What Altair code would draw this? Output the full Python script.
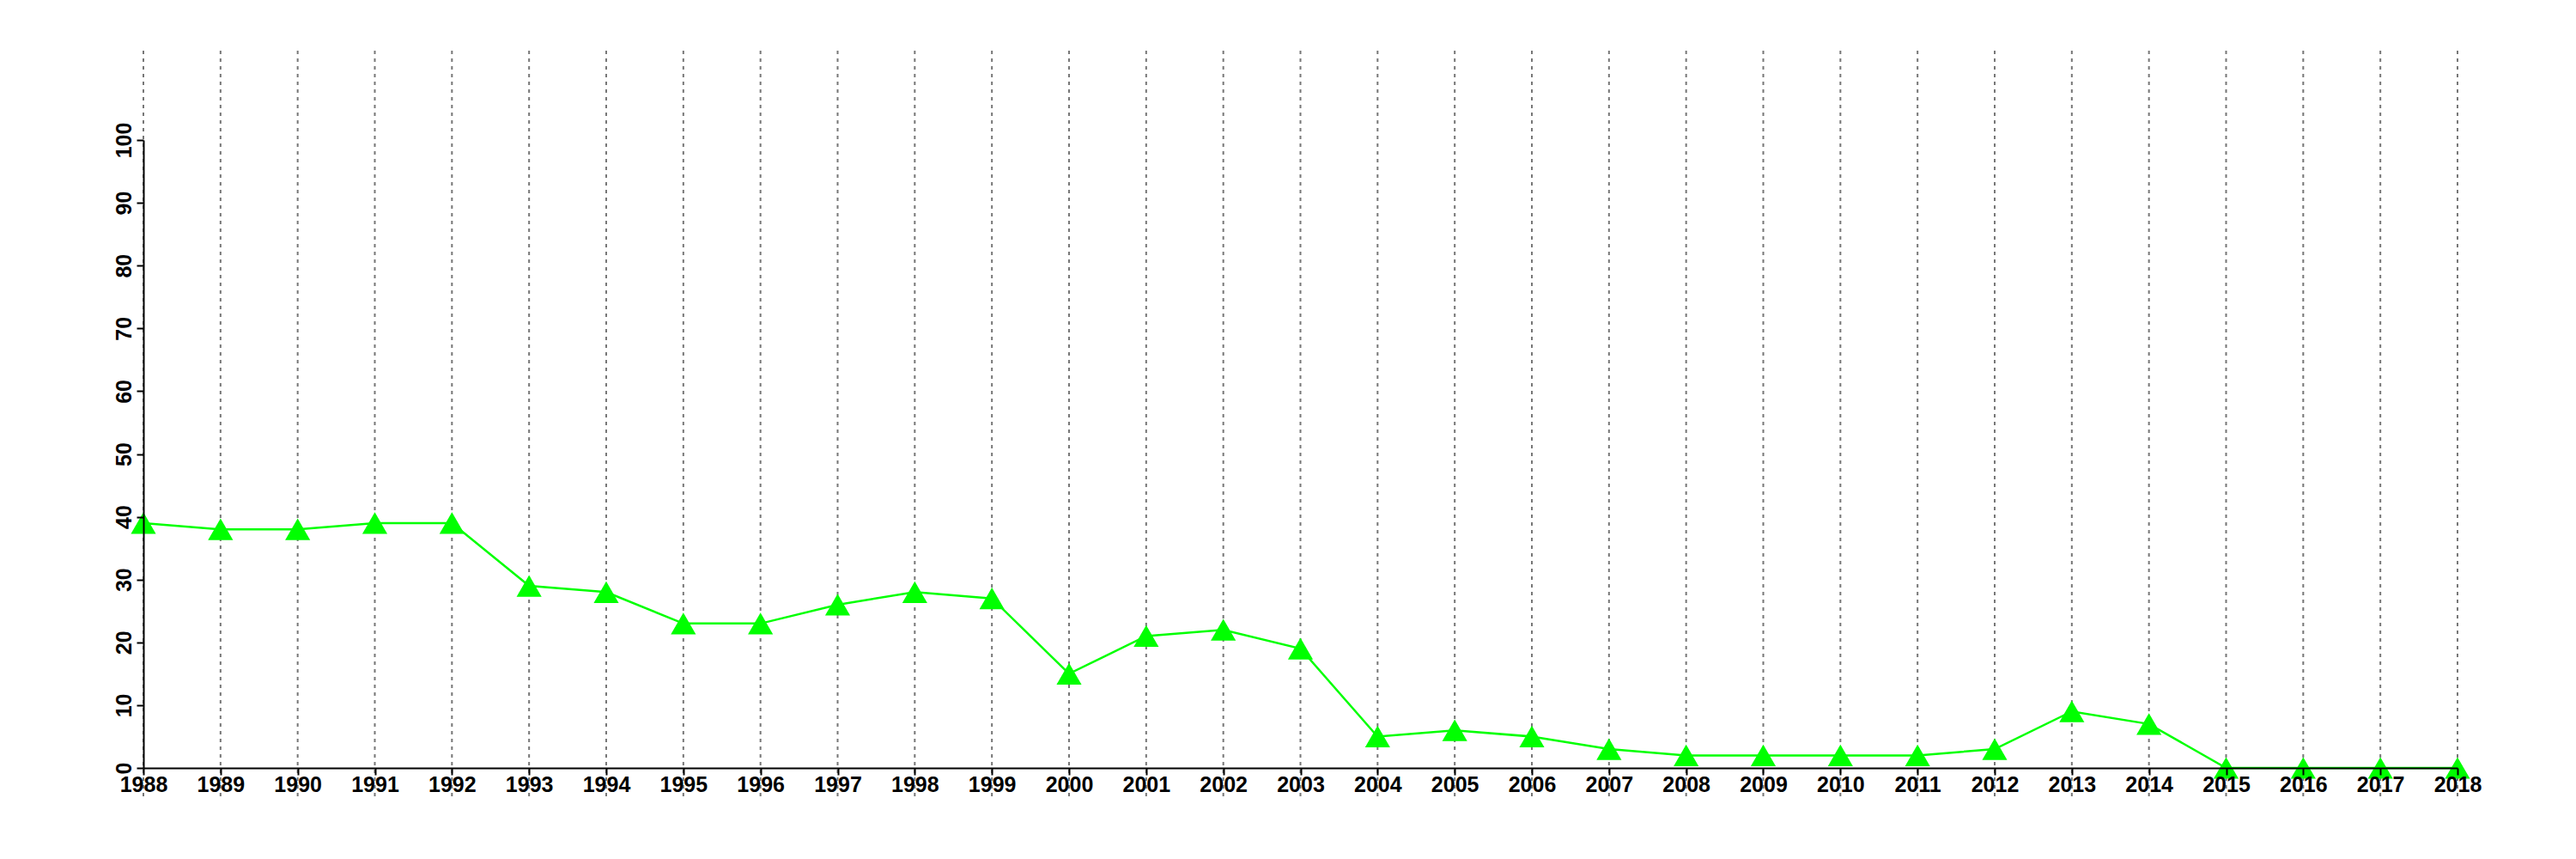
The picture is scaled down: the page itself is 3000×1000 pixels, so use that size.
import altair as alt
import pandas as pd

years = [1988, 1989, 1990, 1991, 1992, 1993, 1994, 1995, 1996, 1997, 1998,
         1999, 2000, 2001, 2002, 2003, 2004, 2005, 2006, 2007, 2008, 2009,
         2010, 2011, 2012, 2013, 2014, 2015, 2016, 2017, 2018]
values = [39, 38, 38, 39, 39, 29, 28, 23, 23, 26, 28,
          27, 15, 21, 22, 19, 5, 6, 5, 3, 2, 2,
          2, 2, 3, 9, 7, 0, 0, 0, 0]
y_ticks = [0, 10, 20, 30, 40, 50, 60, 70, 80, 90, 100]

df = pd.DataFrame({"year": years, "value": values})

W, H = 2695, 731
GREEN = "#00ff00"
FONT = "Liberation Sans"

x_enc = alt.X(
    "year:Q",
    scale=alt.Scale(domain=[1988, 2018], nice=False, zero=False),
    axis=alt.Axis(values=years, format="d", title=None, grid=False,
                  domainColor="black", domainWidth=2, tickColor="black",
                  tickWidth=2, tickSize=8, labelFont=FONT, labelFontWeight="bold",
                  labelFontSize=25, labelColor="black", labelPadding=-1,
                  labelFlush=False, labelOverlap=False, zindex=1),
)
y_enc = alt.Y(
    "value:Q",
    scale=alt.Scale(domain=[0, 100], nice=False),
    axis=alt.Axis(values=y_ticks, title=None, grid=False,
                  domainColor="black", domainWidth=2, tickColor="black",
                  tickWidth=2, tickSize=8, labelFont=FONT, labelFontWeight="bold",
                  labelFontSize=25, labelColor="black", labelAngle=270,
                  labelPadding=2, labelFlush=False, labelOverlap=False, zindex=1),
)

grid = alt.Chart(df).mark_rule(color="#777777", strokeDash=[4, 5], strokeWidth=2).encode(
    x=alt.X("year:Q", scale=alt.Scale(domain=[1988, 2018], nice=False, zero=False)),
    y=alt.value(-104),
    y2=alt.value(H + 33),
)

line = alt.Chart(df).mark_line(color=GREEN, strokeWidth=2.5).encode(x=x_enc, y=y_enc)
points = alt.Chart(df).mark_point(shape="triangle-up", filled=True, color=GREEN,
                                  opacity=1, size=850).encode(x=x_enc, y=y_enc)

chart = alt.layer(grid, line, points).properties(
    width=W, height=H,
    autosize=alt.AutoSizeParams(type="none"),
    padding={"left": 159, "top": 155, "right": 120, "bottom": 90},
    background="white",
).configure_view(stroke=None)

chart.save("out.html", embed_options={"renderer": "svg", "actions": False})
